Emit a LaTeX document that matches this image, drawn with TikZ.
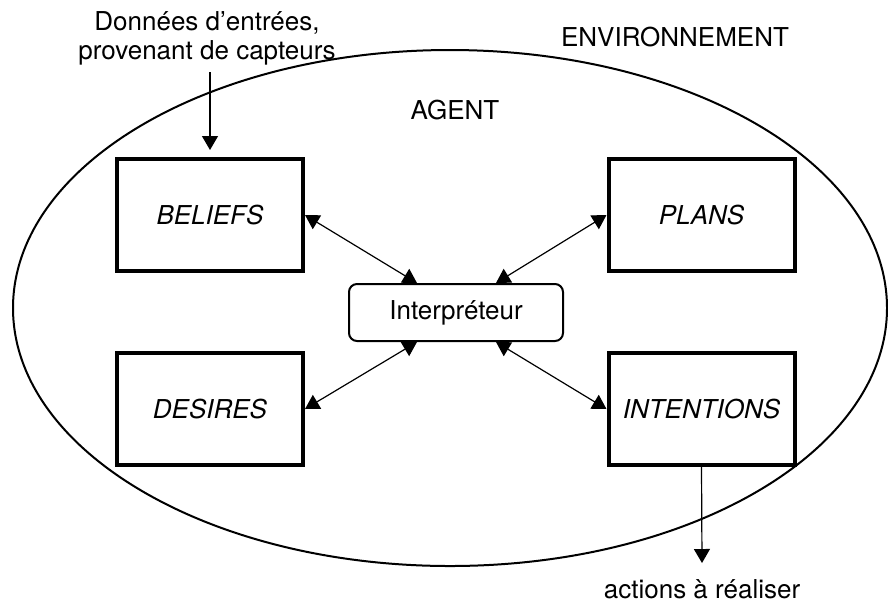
\documentclass[tikz,border=0pt]{standalone}
\usepackage{fontspec}
\setmainfont{TeX Gyre Heros}
\usetikzlibrary{arrows.meta,calc}
\begin{document}
\begin{tikzpicture}[x=0.5pt,y=-0.5pt,
 font=\fontsize{13}{14.5}\selectfont,
 box/.style={draw,line width=2pt,minimum width=93pt,minimum height=56pt,inner sep=0pt,font=\fontsize{13}{14.5}\selectfont\itshape},
 interp/.style={draw,line width=1pt,rounded corners=4pt,minimum width=107pt,minimum height=28.5pt,inner sep=0pt},
 link/.style={line width=0.6pt,{Triangle[length=7pt,width=8pt]}-{Triangle[length=7pt,width=8pt]}},
 flow/.style={line width=0.6pt,-{Triangle[length=7pt,width=8pt]}},
 lbl/.style={inner sep=0pt,anchor=base}]
\useasboundingbox (0,0) rectangle (888,602);
\draw[line width=1pt] (450,308) ellipse [x radius=437, y radius=258];
\node[box] (b) at (210,215) {BELIEFS};
\node[box] (p) at (701.5,215) {PLANS};
\node[box] (d) at (210,409) {DESIRES};
\node[box] (t) at (701.5,409) {INTENTIONS};
\node[interp] (i) at (456,312.5) {Interpréteur};
\node[lbl] (env) at (675,46) {ENVIRONNEMENT};
\node[lbl] (ag) at (455,119) {AGENT};
\node[align=center,inner sep=0pt] (in) at (207,38) {Données d’entrées,\\provenant de capteurs};
\node[lbl] (out) at (702,598) {actions à réaliser};
\coordinate (inS) at (210,72);
\coordinate (outE) at (702,563);
\draw[flow,shorten >=3.5pt] (inS) -- (b.north);
\draw[flow] (t.south) -- (outE);
\draw[link] (b.east) -- ($(i.north west)+(69,0)$);
\draw[link] (p.west) -- ($(i.north east)+(-68,0)$);
\draw[link] (d.east) -- ($(i.south west)+(69,0)$);
\draw[link] (t.west) -- ($(i.south east)+(-68,0)$);
\end{tikzpicture}
\end{document}
